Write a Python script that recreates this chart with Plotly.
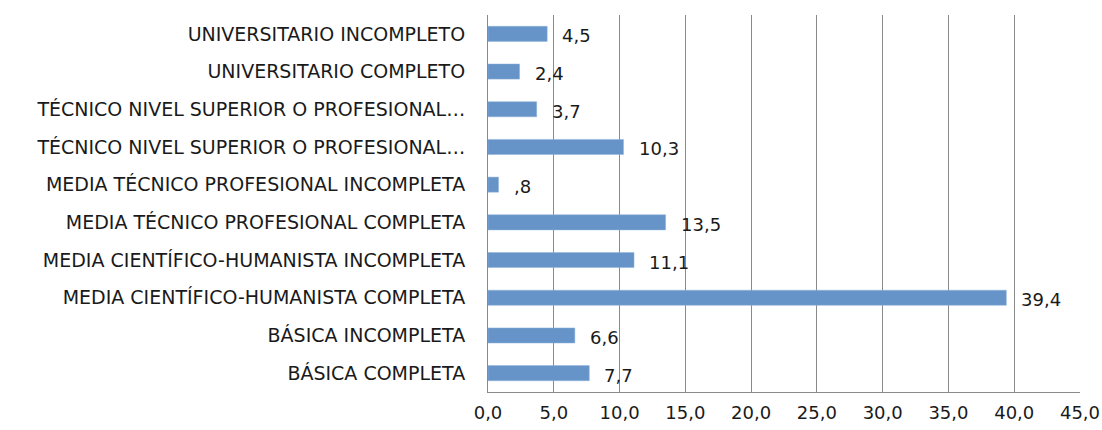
import plotly.graph_objects as go

# categories bottom to top
categorias = [
    "BÁSICA COMPLETA",
    "BÁSICA INCOMPLETA",
    "MEDIA CIENTÍFICO-HUMANISTA COMPLETA",
    "MEDIA CIENTÍFICO-HUMANISTA INCOMPLETA",
    "MEDIA TÉCNICO PROFESIONAL COMPLETA",
    "MEDIA TÉCNICO PROFESIONAL INCOMPLETA",
    "TÉCNICO NIVEL SUPERIOR O PROFESIONAL…",
    "TÉCNICO NIVEL SUPERIOR O PROFESIONAL…",
    "UNIVERSITARIO COMPLETO",
    "UNIVERSITARIO INCOMPLETO",
]
porcentajes = [7.7, 6.6, 39.4, 11.1, 13.5, 0.8, 10.3, 3.7, 2.4, 4.5]
x_ticks = [0, 5, 10, 15, 20, 25, 30, 35, 40, 45]


def fmt(v):
    s = f"{v:.1f}".replace(".", ",")
    if s.startswith("0,") and v != 0:
        s = s[1:]
    return s


posiciones = list(range(len(categorias)))
font_family = "DejaVu Sans"
font_size = 19
num_size = 18
text_color = "#1a1a1a"
grid_color = "#8a8a8a"

fig = go.Figure()
fig.add_trace(go.Bar(
    x=porcentajes, y=posiciones, orientation="h",
    marker=dict(color="#6694c8", line=dict(color="#8fb2da", width=0.5)),
    hoverinfo="x+y",
))

for p, v in zip(posiciones, porcentajes):
    fig.add_annotation(
        x=v, y=p, text=fmt(v), showarrow=False,
        xanchor="left", xshift=13, yshift=-2,
        font=dict(family=font_family, size=num_size, color=text_color),
    )

fig.update_layout(
    width=1102, height=430,
    margin=dict(l=488, r=22, t=15, b=38, autoexpand=False),
    plot_bgcolor="white", paper_bgcolor="white",
    bargap=0.6, showlegend=False,
    font=dict(family=font_family, size=font_size, color=text_color),
)
fig.update_xaxes(
    range=[0, 45], tickvals=x_ticks,
    ticktext=[f"{t:.1f}".replace(".", ",") for t in x_ticks],
    showgrid=True, gridcolor=grid_color, gridwidth=1,
    showline=True, linecolor=grid_color, linewidth=1, mirror=False,
    zeroline=False, ticks="", ticklabelstandoff=4, automargin=False,
    tickfont=dict(family=font_family, size=num_size, color=text_color),
)
fig.update_yaxes(
    range=[-0.5, len(categorias) - 0.5],
    tickvals=posiciones, ticktext=categorias,
    showgrid=False, showline=True, linecolor=grid_color, linewidth=1,
    zeroline=False, ticks="", ticklabelstandoff=18, automargin=False,
    tickfont=dict(family=font_family, size=font_size, color=text_color),
)

# drop the default page margin so the figure fills the window
fig.write_html(
    "out.html",
    config={"displayModeBar": False},
    post_script="document.body.style.margin='0';",
)
